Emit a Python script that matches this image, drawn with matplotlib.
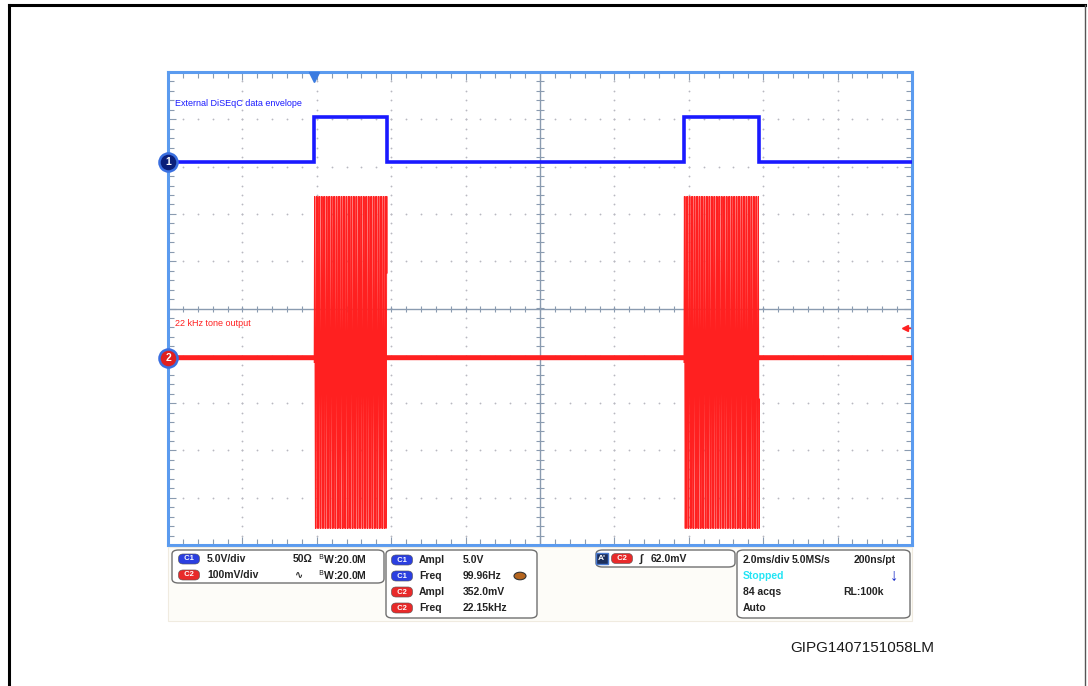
import numpy as np
import matplotlib.pyplot as plt
from matplotlib.patches import FancyBboxPatch, Rectangle

plt.rcParams['font.family'] = ['Liberation Sans', 'DejaVu Sans']

W, H = 1088, 686

# timebase: 2 ms/div, 10 x 10 divisions
ms_per_div = 2.0
n_hdiv = 10
n_vdiv = 10
trigger_ms = 3.93

# DiSEqC envelope (channel 1)
pulse_start_ms = [3.93, 13.87]
pulse_end_ms = [5.89, 15.90]
ch1_low_v = 0.0
ch1_high_v = 4.8
ch1_volts_per_div = 5.0
ch1_offset_div = 3.09

# 22 kHz tone (channel 2)
tone_khz = 22.15
tone_peak_mv = 351.0
tone_center_mv = -10.0
ch2_mv_per_div = 100.0
ch2_offset_div = -1.04
ch2_trig_mv = 62.0
sample_rate_mss = 5.0

blue = '#1a1aff'
red = '#ff2020'
frame_blue = '#5b9bef'
grat = '#8a9bb0'

fig = plt.figure(figsize=(W / 100, H / 100), dpi=100)
ax = fig.add_axes([168 / W, 1 - 545 / H, 744 / W, 473 / H])
t_end = n_hdiv * ms_per_div
half = n_vdiv / 2
ax.set_xlim(0, t_end)
ax.set_ylim(-half, half)

# graticule: dotted divisions, solid centre cross with tick marks
xt = np.arange(0, t_end + 1e-9, ms_per_div / 5)
yt = np.arange(-half, half + 1e-9, 0.2)
for k in range(1, n_hdiv):
    if k != n_hdiv // 2:
        ax.plot(np.full_like(yt, k * ms_per_div), yt, 'o', ms=1.3, color='#b8b8c0',
                mew=0, zorder=1)
for k in np.arange(-half + 1, half):
    if k != 0:
        ax.plot(xt, np.full_like(xt, k), 'o', ms=1.3, color='#b8b8c0', mew=0, zorder=1)
ax.axvline(t_end / 2, color=grat, lw=1.0, zorder=1)
ax.axhline(0, color=grat, lw=1.0, zorder=1)
ax.plot(xt, np.zeros_like(xt), '|', color=grat, ms=5, mew=0.8, zorder=1)
ax.plot(np.full_like(yt, t_end / 2), yt, '_', color=grat, ms=6, mew=0.8, zorder=1)

ax.set_xticks(np.arange(0, t_end + 1e-9, ms_per_div))
ax.set_xticks(xt, minor=True)
ax.set_yticks(np.arange(-half, half + 1e-9, 1))
ax.set_yticks(yt, minor=True)
ax.tick_params(which='both', direction='in', top=True, right=True,
               labelbottom=False, labelleft=False, color=grat)
ax.tick_params(which='major', length=6, width=0.8)
ax.tick_params(which='minor', length=4, width=0.8)
for s in ax.spines.values():
    s.set_color(frame_blue)
    s.set_linewidth(2.2)

# channel 1 square envelope
edges = [0.0]
levels = [ch1_low_v]
for a, b in zip(pulse_start_ms, pulse_end_ms):
    edges += [a, a, b, b]
    levels += [ch1_low_v, ch1_high_v, ch1_high_v, ch1_low_v]
edges.append(t_end)
levels.append(ch1_low_v)
ch1_div = ch1_offset_div + np.array(levels) / ch1_volts_per_div
ax.plot(edges, ch1_div, color=blue, lw=2.6, zorder=3, solid_joinstyle='miter')

# channel 2: tone bursts during the envelope, flat baseline otherwise
dt = 1e-3 / sample_rate_mss
t2 = np.arange(0, t_end, dt)
v2 = np.zeros_like(t2)
base = np.full_like(t2, ch2_offset_div)
for a, b in zip(pulse_start_ms, pulse_end_ms):
    on = (t2 >= a) & (t2 <= b)
    v2[on] = tone_center_mv + tone_peak_mv * np.sin(2 * np.pi * tone_khz * (t2[on] - a))
    base[on] = np.nan
    on_idx = np.where(on)[0]
    ax.plot(t2[on_idx], ch2_offset_div + v2[on_idx] / ch2_mv_per_div,
            color=red, lw=0.7, zorder=3)
ax.plot(t2, base, color=red, lw=3.6, zorder=3)

ax.text(0.2, 4.33, 'External DiSEqC data envelope', color=blue, fontsize=6.5,
        va='center')
ax.text(0.2, -0.32, '22 kHz tone output', color=red, fontsize=6.5, va='center')

# channel markers, trigger position and trigger level
ax.plot(0, ch1_offset_div, 'o', ms=13, mfc='#0a1f7a', mec='#3a6fe0', mew=1.8,
        clip_on=False, zorder=6)
ax.text(0, ch1_offset_div, '1', color='white', fontsize=7.5, fontweight='bold',
        ha='center', va='center', zorder=7)
ax.plot(0, ch2_offset_div, 'o', ms=13, mfc='#e02020', mec='#3a6fe0', mew=1.8,
        clip_on=False, zorder=6)
ax.text(0, ch2_offset_div, '2', color='white', fontsize=7.5, fontweight='bold',
        ha='center', va='center', zorder=7)
ax.plot(trigger_ms, 4.9, 'v', ms=7, color='#3a7be0', clip_on=False, zorder=6)
trig_div = ch2_offset_div + ch2_trig_mv / ch2_mv_per_div
ax.plot(t_end - 0.2, trig_div, '<', ms=5, color=red, zorder=6)
ax.plot([t_end - 0.2, t_end - 0.05], [trig_div] * 2, color=red, lw=1, zorder=6)


def px(x, y):
    return x / W, 1 - y / H


def box(x0, y0, x1, y1):
    fig.patches.append(FancyBboxPatch(px(x0, y1), (x1 - x0) / W, (y1 - y0) / H,
                                      boxstyle='round,pad=0,rounding_size=0.006',
                                      transform=fig.transFigure, fc='white',
                                      ec='#707070', lw=1.0))


def pill(x, y, label, fc):
    fig.text(*px(x, y), '  ' + label + '  ', fontsize=5.5, color='white', ha='center',
             va='center', fontweight='bold',
             bbox=dict(boxstyle='round,pad=0.2,rounding_size=0.6', fc=fc, ec='#555555',
                       lw=0.4))


def txt(x, y, s, color='#222222', size=7.5, **kw):
    fig.text(*px(x, y), s, fontsize=size, color=color, va='center',
             fontweight='bold', **kw)


# faint strip under the screen
fig.patches.append(Rectangle(px(168, 621), 744 / W, 74 / H,
                             transform=fig.transFigure, fc='#fdfcf8', ec='#f0ebe0', lw=0.8))

c1_fc, c2_fc = '#2b3fe0', '#e82a2a'

box(172, 550, 384, 583)
pill(189, 559, 'C1', c1_fc)
txt(207, 559, '5.0V/div')
txt(293, 559, '50Ω')
txt(318, 559, r'$^{\mathrm{B}}$W:20.0M')
pill(189, 575, 'C2', c2_fc)
txt(207, 575, '100mV/div')
txt(295, 575, '∿', size=7)
txt(318, 575, r'$^{\mathrm{B}}$W:20.0M')

box(386, 550, 537, 618)
rows = [('C1', c1_fc, 'Ampl', '5.0V'), ('C1', c1_fc, 'Freq', '99.96Hz'),
        ('C2', c2_fc, 'Ampl', '352.0mV'), ('C2', c2_fc, 'Freq', '22.15kHz')]
for i, (ch, fc, name, val) in enumerate(rows):
    y = 560 + 16 * i
    pill(402, y, ch, fc)
    txt(419, y, name)
    txt(463, y, val)
fig.patches.append(plt.Circle(px(520, 576), 6 / W, transform=fig.transFigure,
                              fc='#b5651d', ec='#333333', lw=0.8))

box(596, 550, 735, 567)
fig.text(*px(602, 558.5), "A'", fontsize=6, color='white', ha='center', va='center',
         fontweight='bold', bbox=dict(boxstyle='square,pad=0.2', fc='#1c2e5a', ec='#4a7ad0'))
pill(622, 558.5, 'C2', c2_fc)
txt(640, 558.5, '∫', size=8)
txt(651, 558.5, '62.0mV')

box(737, 550, 910, 618)
txt(743, 560, '2.0ms/div')
txt(792, 560, '5.0MS/s')
txt(854, 560, '200ns/pt')
txt(743, 576, 'Stopped', color='#22e4f5')
txt(743, 592, '84 acqs')
txt(843, 592, 'RL:100k')
txt(743, 608, 'Auto')
fig.text(*px(894, 576), '↓', fontsize=12, color='#1528c8', ha='center', va='center',
         fontweight='bold')

fig.text(*px(790, 648), 'GIPG1407151058LM', fontsize=11, color='#1a1a1a', va='center')

# page border
fig.add_artist(plt.Line2D([8.5 / W, 8.5 / W], [0, 1 - 4.5 / H], color='black', lw=2.2,
                          transform=fig.transFigure))
fig.add_artist(plt.Line2D([8.5 / W, 1085 / W], [1 - 4.5 / H] * 2, color='black', lw=2.2,
                          transform=fig.transFigure))
fig.add_artist(plt.Line2D([1085 / W, 1085 / W], [0, 1 - 4.5 / H], color='#555555', lw=1,
                          transform=fig.transFigure))

fig.savefig('out.png', dpi=100)
